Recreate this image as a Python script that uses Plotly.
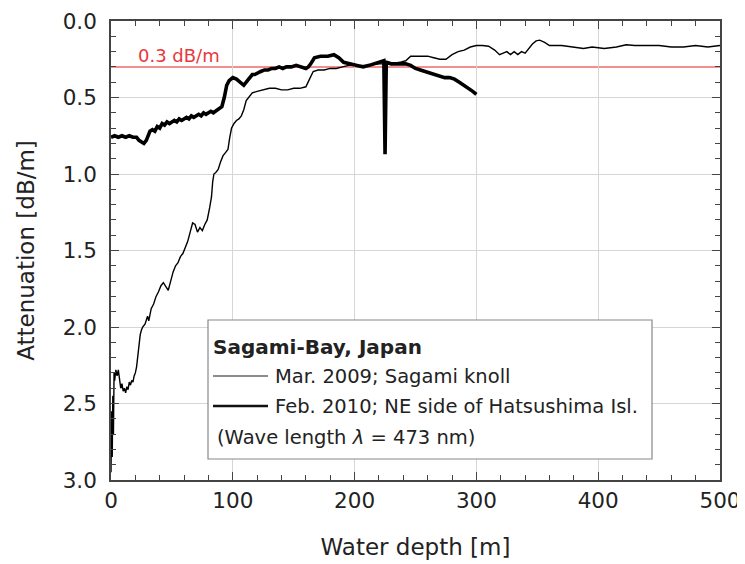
import plotly.graph_objects as go

# ---------------- data ----------------
mar2009_depth = [0, 0.5, 1, 1.5, 2, 2.5, 3, 4, 5, 6, 7, 8, 9, 10, 11, 12, 13, 14, 15, 16, 17, 18, 19, 20,
                 21, 22, 23, 24, 25, 26, 28, 30, 31, 33, 35, 37, 39, 41, 43, 45, 47, 49, 51, 53, 55, 57,
                 59, 61, 63, 65, 67, 69, 71, 73, 75, 77, 79, 81, 82.5, 83.5, 84.5, 86, 88, 90, 92, 94,
                 96, 97.5, 99, 101, 103, 105, 107, 109, 111, 113, 116, 120, 125, 130, 135, 140, 145,
                 150, 155, 160, 163, 166, 170, 175, 180, 185, 190, 195, 200, 210, 220, 230, 237, 242,
                 246, 250, 255, 260, 265, 270, 275, 280, 285, 290, 295, 300, 305, 310, 315, 319, 322,
                 325, 328, 331, 334, 337, 340, 343, 346, 349, 352, 356, 360, 370, 380, 388, 395, 405,
                 415, 423, 430, 440, 450, 460, 470, 480, 490, 500]
mar2009_att = [2.95, 2.55, 2.85, 2.45, 2.70, 2.30, 2.35, 2.28, 2.32, 2.28, 2.36, 2.40, 2.37, 2.42, 2.40,
               2.43, 2.39, 2.41, 2.36, 2.38, 2.35, 2.36, 2.32, 2.30, 2.26, 2.18, 2.12, 2.05, 2.02, 2.00,
               1.98, 1.93, 1.96, 1.88, 1.85, 1.80, 1.77, 1.73, 1.71, 1.74, 1.76, 1.70, 1.64, 1.60, 1.58,
               1.54, 1.52, 1.48, 1.44, 1.38, 1.32, 1.33, 1.38, 1.35, 1.37, 1.33, 1.30, 1.22, 1.15, 1.05,
               1.00, 0.99, 0.97, 0.92, 0.88, 0.86, 0.84, 0.76, 0.70, 0.67, 0.65, 0.64, 0.62, 0.58, 0.52,
               0.50, 0.47, 0.46, 0.45, 0.44, 0.44, 0.45, 0.45, 0.44, 0.44, 0.43, 0.38, 0.33, 0.32, 0.32,
               0.31, 0.31, 0.30, 0.29, 0.29, 0.29, 0.28, 0.28, 0.27, 0.26, 0.23, 0.23, 0.23, 0.23, 0.24,
               0.25, 0.25, 0.22, 0.20, 0.19, 0.17, 0.16, 0.16, 0.165, 0.19, 0.22, 0.21, 0.20, 0.22, 0.20,
               0.22, 0.20, 0.21, 0.18, 0.15, 0.13, 0.125, 0.14, 0.16, 0.16, 0.17, 0.18, 0.17, 0.18, 0.17,
               0.155, 0.16, 0.16, 0.16, 0.17, 0.17, 0.16, 0.17, 0.16]

feb2010_depth = [0, 3, 6, 9, 12, 15, 18, 21, 23, 25, 27, 29, 30, 32, 34, 36, 38, 40, 42, 44, 46, 48, 50,
                 52, 54, 56, 58, 60, 62, 64, 66, 68, 70, 72, 74, 76, 78, 80, 82, 84, 86, 88, 90, 91,
                 93, 95, 97, 100, 103, 106, 109, 112, 114, 116, 118, 120, 123, 126, 129, 132, 135, 138,
                 141, 144, 148, 152, 156, 160, 162, 164, 167, 172, 178, 183, 187, 191, 196, 202, 207,
                 212, 217, 222, 224, 225, 226, 230, 236, 242, 246, 250, 254, 258, 262, 266, 270, 274,
                 278, 282, 286, 290, 294, 297, 300]
feb2010_att = [0.76, 0.75, 0.76, 0.75, 0.76, 0.75, 0.76, 0.76, 0.78, 0.79, 0.80, 0.78, 0.76, 0.72, 0.71,
               0.72, 0.69, 0.70, 0.67, 0.68, 0.66, 0.67, 0.66, 0.65, 0.66, 0.64, 0.65, 0.64, 0.63, 0.64,
               0.62, 0.63, 0.62, 0.61, 0.62, 0.60, 0.61, 0.60, 0.59, 0.60, 0.59, 0.58, 0.57, 0.56, 0.50,
               0.42, 0.39, 0.37, 0.38, 0.40, 0.42, 0.39, 0.37, 0.35, 0.35, 0.34, 0.33, 0.32, 0.32, 0.31,
               0.31, 0.30, 0.31, 0.30, 0.30, 0.29, 0.30, 0.31, 0.30, 0.28, 0.24, 0.23, 0.23, 0.22, 0.24,
               0.27, 0.28, 0.29, 0.30, 0.29, 0.28, 0.27, 0.26, 0.87, 0.27, 0.28, 0.28, 0.28, 0.29, 0.31,
               0.32, 0.33, 0.34, 0.35, 0.36, 0.37, 0.37, 0.38, 0.40, 0.42, 0.44, 0.46, 0.48]

threshold = 0.3
threshold_label = "0.3 dB/m"
x_ticks = [0, 100, 200, 300, 400, 500]
y_ticks = [0.0, 0.5, 1.0, 1.5, 2.0, 2.5, 3.0]
legend_title = "Sagami-Bay, Japan"
series_names = ["Mar. 2009; Sagami knoll", "Feb. 2010; NE side of Hatsushima Isl."]
legend_note = "(Wave length <i>λ</i> = 473 nm)"

FONT = "DejaVu Sans"
TXT = "#222222"

fig = go.Figure()
fig.add_trace(go.Scatter(x=mar2009_depth, y=mar2009_att, mode="lines", name=series_names[0],
                         line=dict(color="black", width=1.4), showlegend=False))
fig.add_trace(go.Scatter(x=feb2010_depth, y=feb2010_att, mode="lines", name=series_names[1],
                         line=dict(color="black", width=3.6), showlegend=False))

fig.add_hline(y=threshold, line=dict(color="#f06a6a", width=1.5), layer="below")

# The page body adds an 8 px margin, so the figure is 8 px smaller than the window.
OFF = 8
W, H = 745 - OFF, 564 - OFF
# plot area in window pixels: left 111, right 720, top 21, bottom 480
L, R, T, B = 111, 720, 21, 480
def px(x):
    return (x - L) / (R - L)
def py(y):
    return (B - y) / (B - T)

fig.add_annotation(x=px(136), y=py(55), xref="paper", yref="paper", text=threshold_label,
                   showarrow=False, xanchor="left", yanchor="middle",
                   font=dict(family=FONT, size=18, color="#e8383d"))

# legend box drawn manually
LFS = 19.5
box_l, box_r, box_t, box_b = 208, 652, 320, 459
fig.add_shape(type="rect", xref="paper", yref="paper", x0=px(box_l), x1=px(box_r), y0=py(box_b), y1=py(box_t),
              line=dict(color="#888888", width=1.2), fillcolor="white", layer="above")
fig.add_annotation(x=px(211), y=py(347), xref="paper", yref="paper", text="<b>" + legend_title + "</b>",
                   showarrow=False, xanchor="left", yanchor="middle", font=dict(family=FONT, size=20, color=TXT))
fig.add_shape(type="line", xref="paper", yref="paper", x0=px(213), x1=px(268), y0=py(376), y1=py(376),
              line=dict(color="#666666", width=1.3), layer="above")
fig.add_annotation(x=px(273), y=py(376), xref="paper", yref="paper", text=series_names[0],
                   showarrow=False, xanchor="left", yanchor="middle", font=dict(family=FONT, size=LFS, color=TXT))
fig.add_shape(type="line", xref="paper", yref="paper", x0=px(213), x1=px(268), y0=py(406), y1=py(406),
              line=dict(color="#111111", width=2.6), layer="above")
fig.add_annotation(x=px(273), y=py(406), xref="paper", yref="paper", text=series_names[1],
                   showarrow=False, xanchor="left", yanchor="middle", font=dict(family=FONT, size=LFS, color=TXT))
fig.add_annotation(x=px(215), y=py(437), xref="paper", yref="paper", text=legend_note,
                   showarrow=False, xanchor="left", yanchor="middle", font=dict(family=FONT, size=LFS, color=TXT))

axis_common = dict(
    showline=True, linecolor="#444444", linewidth=1.6, mirror="ticks",
    ticks="inside", ticklen=8, tickwidth=1.4, tickcolor="#444444",
    showgrid=True, gridcolor="#d6d6d6", gridwidth=1.2, zeroline=False,
    tickfont=dict(family=FONT, size=21.5, color=TXT), automargin=False,
)

fig.update_xaxes(range=[0, 500], tickvals=x_ticks, ticktext=[str(v) for v in x_ticks],
                 minor=dict(dtick=20, ticks="inside", ticklen=5, tickcolor="#444444", showgrid=False),
                 title=dict(text="Water depth [m]", font=dict(family=FONT, size=23, color=TXT), standoff=27),
                 **axis_common)
fig.update_yaxes(range=[3, 0], tickvals=y_ticks, ticktext=[f"{v:.1f}" for v in y_ticks],
                 minor=dict(dtick=0.1, ticks="inside", ticklen=5, tickcolor="#444444", showgrid=False),
                 title=dict(text="Attenuation [dB/m]", font=dict(family=FONT, size=23, color=TXT), standoff=22),
                 ticklabelstandoff=8,
                 **axis_common)

fig.update_layout(width=W, height=H,
                  margin=dict(l=L - OFF, r=745 - R, t=T - OFF, b=564 - B),
                  paper_bgcolor="white", plot_bgcolor="white", showlegend=False)

fig.write_html("out.html")
